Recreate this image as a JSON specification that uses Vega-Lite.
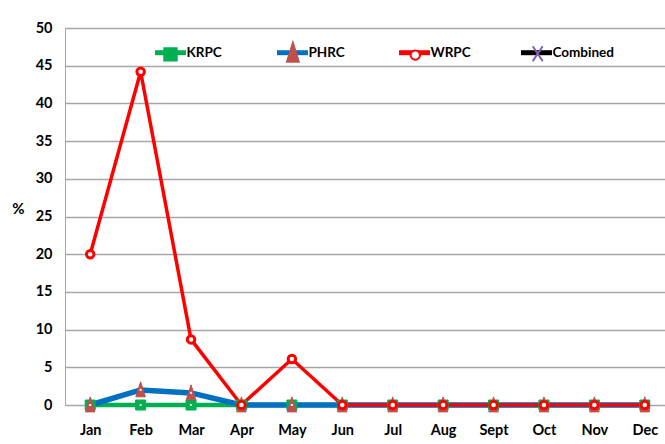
{
  "$schema": "https://vega.github.io/schema/vega-lite/v6.json",
  "width": 605,
  "height": 377,
  "autosize": {"type": "none"},
  "padding": {"left": 65, "top": 28, "right": 0, "bottom": 39},
  "background": "white",
  "config": {
    "view": {"stroke": null},
    "font": "Lato",
    "axis": {
      "labelFont": "Lato",
      "labelFontSize": 14.5,
      "labelFontWeight": "bold",
      "labelColor": "#000000",
      "titleFont": "Lato",
      "titleFontSize": 15,
      "titleFontWeight": "bold",
      "titleColor": "#000000",
      "ticks": false,
      "domainColor": "#a6a6a6",
      "gridColor": "#a6a6a6",
      "gridWidth": 1.3
    }
  },
  "data": {
    "values": [
      {"month": "Jan", "series": "KRPC", "value": 0},
      {"month": "Feb", "series": "KRPC", "value": 0},
      {"month": "Mar", "series": "KRPC", "value": 0},
      {"month": "Apr", "series": "KRPC", "value": 0},
      {"month": "May", "series": "KRPC", "value": 0},
      {"month": "Jun", "series": "KRPC", "value": 0},
      {"month": "Jul", "series": "KRPC", "value": 0},
      {"month": "Aug", "series": "KRPC", "value": 0},
      {"month": "Sept", "series": "KRPC", "value": 0},
      {"month": "Oct", "series": "KRPC", "value": 0},
      {"month": "Nov", "series": "KRPC", "value": 0},
      {"month": "Dec", "series": "KRPC", "value": 0},
      {"month": "Jan", "series": "PHRC", "value": 0},
      {"month": "Feb", "series": "PHRC", "value": 2.0},
      {"month": "Mar", "series": "PHRC", "value": 1.6},
      {"month": "Apr", "series": "PHRC", "value": 0},
      {"month": "May", "series": "PHRC", "value": 0},
      {"month": "Jun", "series": "PHRC", "value": 0},
      {"month": "Jul", "series": "PHRC", "value": 0},
      {"month": "Aug", "series": "PHRC", "value": 0},
      {"month": "Sept", "series": "PHRC", "value": 0},
      {"month": "Oct", "series": "PHRC", "value": 0},
      {"month": "Nov", "series": "PHRC", "value": 0},
      {"month": "Dec", "series": "PHRC", "value": 0},
      {"month": "Jan", "series": "WRPC", "value": 20},
      {"month": "Feb", "series": "WRPC", "value": 44.2},
      {"month": "Mar", "series": "WRPC", "value": 8.7},
      {"month": "Apr", "series": "WRPC", "value": 0},
      {"month": "May", "series": "WRPC", "value": 6.1},
      {"month": "Jun", "series": "WRPC", "value": 0},
      {"month": "Jul", "series": "WRPC", "value": 0},
      {"month": "Aug", "series": "WRPC", "value": 0},
      {"month": "Sept", "series": "WRPC", "value": 0},
      {"month": "Oct", "series": "WRPC", "value": 0},
      {"month": "Nov", "series": "WRPC", "value": 0},
      {"month": "Dec", "series": "WRPC", "value": 0},
      {"month": "Jan", "series": "Combined", "value": null},
      {"month": "Feb", "series": "Combined", "value": null},
      {"month": "Mar", "series": "Combined", "value": null},
      {"month": "Apr", "series": "Combined", "value": null},
      {"month": "May", "series": "Combined", "value": null},
      {"month": "Jun", "series": "Combined", "value": null},
      {"month": "Jul", "series": "Combined", "value": null},
      {"month": "Aug", "series": "Combined", "value": null},
      {"month": "Sept", "series": "Combined", "value": null},
      {"month": "Oct", "series": "Combined", "value": null},
      {"month": "Nov", "series": "Combined", "value": null},
      {"month": "Dec", "series": "Combined", "value": null}
    ]
  },
  "encoding": {
    "x": {
      "field": "month",
      "type": "ordinal",
      "scale": {"type": "point", "padding": 0.5, "domain": ["Jan", "Feb", "Mar", "Apr", "May", "Jun", "Jul", "Aug", "Sept", "Oct", "Nov", "Dec"]},
      "axis": {"title": null, "labelAngle": 0, "labelPadding": 18, "grid": false, "domain": true}
    },
    "y": {
      "field": "value",
      "type": "quantitative",
      "scale": {"domain": [0, 50], "nice": false},
      "axis": {
        "title": "%",
        "titleAngle": 0,
        "titleX": -47,
        "titleY": 180,
        "titleAlign": "center",
        "titleBaseline": "middle",
        "values": [0, 5, 10, 15, 20, 25, 30, 35, 40, 45, 50],
        "grid": true,
        "labelPadding": 13
      }
    }
  },
  "layer": [
    {
      "mark": {"type": "line"},
      "encoding": {
        "color": {
          "field": "series",
          "type": "nominal",
          "sort": ["KRPC", "PHRC", "WRPC", "Combined"],
          "scale": {"range": ["#00b050", "#0070c0", "#ff0000", "#000000"]},
          "legend": {
            "orient": "none",
            "legendX": 87.5,
            "legendY": 6.7,
            "direction": "horizontal",
            "columns": 4,
            "gridAlign": "all",
            "columnPadding": 18,
            "padding": 0,
            "title": null,
            "symbolType": "stroke",
            "symbolSize": 961,
            "symbolStrokeWidth": 5,
            "symbolOffset": 0,
            "labelFont": "Lato",
            "labelFontSize": 13.5,
            "labelFontWeight": "bold",
            "labelColor": "#000000",
            "labelOffset": -2,
            "labelLimit": 300
          }
        },
        "strokeWidth": {
          "condition": [
            {"test": "datum.series === 'PHRC'", "value": 5.5},
            {"test": "datum.series === 'WRPC'", "value": 3.5}
          ],
          "value": 4.5
        }
      }
    },
    {
      "mark": {"type": "point", "filled": true, "size": 625, "opacity": 1},
      "encoding": {
        "shape": {
          "field": "series",
          "type": "nominal",
          "scale": {
            "domain": ["KRPC", "PHRC", "WRPC", "Combined"],
            "range": [
              "M-0.4,-0.4H0.4V0.4H-0.4Z",
              "M0,-0.65L0.38,0.55H-0.38Z",
              "M-0.3,0A0.3,0.3,0,1,0,0.3,0A0.3,0.3,0,1,0,-0.3,0Z",
              "M-0.32,-0.48L0.32,0.48M-0.32,0.48L0.32,-0.48"
            ]
          },
          "legend": {
            "orient": "none",
            "legendX": 87.5,
            "legendY": 8.2,
            "direction": "horizontal",
            "columns": 4,
            "gridAlign": "all",
            "columnPadding": 82.4,
            "padding": 0,
            "title": null,
            "symbolSize": 961,
            "symbolStrokeWidth": 2,
            "symbolOffset": 1.5,
            "symbolOpacity": 1,
            "labelExpr": "''",
            "labelFontSize": 13.5,
            "labelOffset": 5,
            "labelLimit": 300
          }
        },
        "fill": {
          "field": "series",
          "type": "nominal",
          "scale": {"domain": ["KRPC", "PHRC", "WRPC", "Combined"], "range": ["#00b050", "#c0504d", "#ffffff", "#7f63b2"]},
          "legend": {
            "orient": "none",
            "legendX": 87.5,
            "legendY": 8.2,
            "direction": "horizontal",
            "columns": 4,
            "gridAlign": "all",
            "columnPadding": 82.4,
            "padding": 0,
            "title": null,
            "symbolSize": 961,
            "symbolStrokeWidth": 2,
            "symbolOffset": 1.5,
            "symbolOpacity": 1,
            "labelExpr": "''",
            "labelFontSize": 13.5,
            "labelOffset": 5,
            "labelLimit": 300
          }
        },
        "stroke": {
          "field": "series",
          "type": "nominal",
          "scale": {"domain": ["KRPC", "PHRC", "WRPC", "Combined"], "range": ["#00b050", "#c0504d", "#ff0000", "#7f63b2"]},
          "legend": {
            "orient": "none",
            "legendX": 87.5,
            "legendY": 8.2,
            "direction": "horizontal",
            "columns": 4,
            "gridAlign": "all",
            "columnPadding": 82.4,
            "padding": 0,
            "title": null,
            "symbolSize": 961,
            "symbolStrokeWidth": 2,
            "symbolOffset": 1.5,
            "symbolOpacity": 1,
            "labelExpr": "''",
            "labelFontSize": 13.5,
            "labelOffset": 5,
            "labelLimit": 300
          }
        },
        "strokeWidth": {"condition": {"test": "datum.series === 'WRPC'", "value": 3}, "value": 1}
      }
    },
    {
      "transform": [{"filter": {"field": "series", "oneOf": ["KRPC", "PHRC"]}}],
      "mark": {"type": "circle", "size": 5, "fill": "#ffffff", "opacity": 1}
    }
  ]
}
